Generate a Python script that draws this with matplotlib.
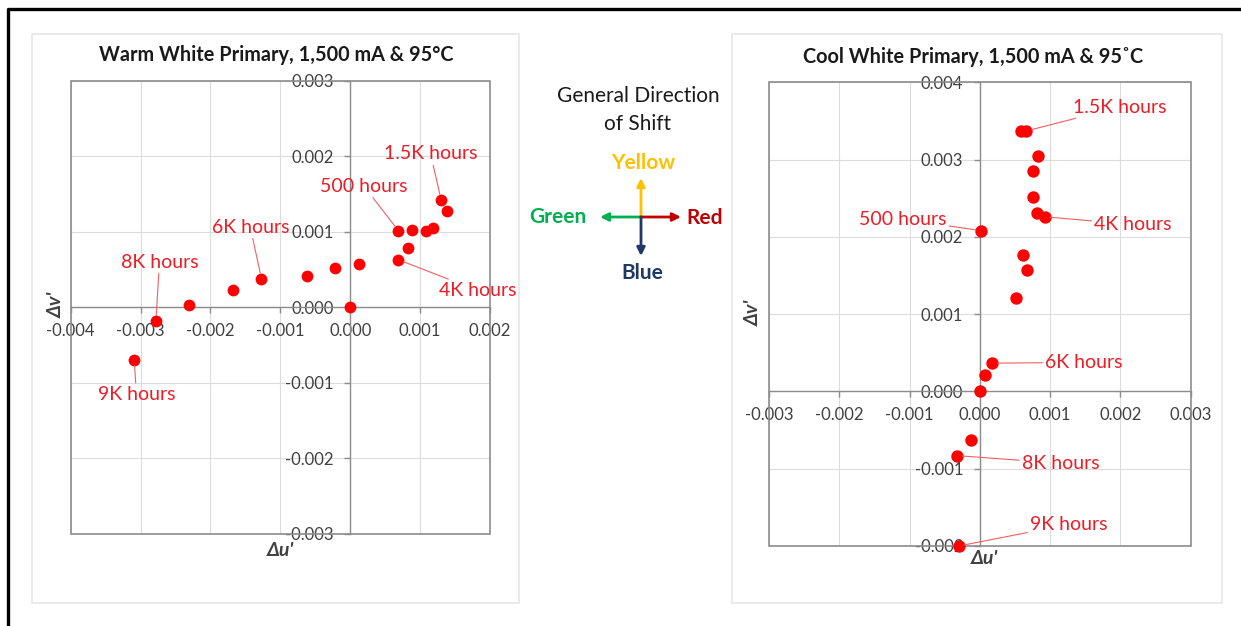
import numpy as np
import matplotlib.pyplot as plt
from matplotlib.patches import Rectangle
from matplotlib.ticker import FuncFormatter

plt.rcParams['font.family'] = ['Lato', 'DejaVu Sans']

# Warm white primary, 1,500 mA & 95 C  (delta u', delta v')
warm_du = [0.0, -0.00278, -0.00231, -0.00168, -0.00127, -0.000625, -0.00022,
           0.00013, 0.00069, 0.00083, 0.00069, 0.00089, 0.00109, 0.00118,
           0.00130, 0.00138, -0.00309]
warm_dv = [0.0, -0.00018, 0.00003, 0.00023, 0.00038, 0.00042, 0.000525,
           0.00058, 0.00063, 0.00078, 0.001015, 0.001025, 0.001005, 0.001045,
           0.001425, 0.00127, -0.00070]

# Cool white primary, 1,500 mA & 95 C
cool_du = [0.00059, 0.00066, 0.00083, 0.00076, 0.00075, 0.000815, 0.00092,
           0.00002, 0.00062, 0.00067, 0.00051, 0.00017, 0.00007, 0.0,
           -0.00013, -0.00033, -0.00030]
cool_dv = [0.00337, 0.00337, 0.00305, 0.00285, 0.00252, 0.002315, 0.00226,
           0.00208, 0.00176, 0.001565, 0.00121, 0.000366, 0.000216, 0.0,
           -0.000634, -0.00083, -0.0020]

# annotations: text, point index, text position (data units)
warm_notes = [("1.5K hours", 14, (0.00115, 0.00203)),
              ("500 hours", 10, (0.00020, 0.00160)),
              ("6K hours", 4, (-0.00143, 0.00106)),
              ("8K hours", 1, (-0.00273, 0.00060)),
              ("4K hours", 8, (0.00182, 0.000225)),
              ("9K hours", 16, (-0.00306, -0.00115))]
cool_notes = [("1.5K hours", 1, (0.00199, 0.00368)),
              ("4K hours", 6, (0.00218, 0.00216)),
              ("500 hours", 7, (-0.00110, 0.00223)),
              ("6K hours", 11, (0.00148, 0.000375)),
              ("8K hours", 15, (0.00115, -0.00093)),
              ("9K hours", 16, (0.00127, -0.00172))]

W, H = 1241, 626
fig = plt.figure(figsize=(W / 100, H / 100), dpi=100)

grey = '#8c8c8c'
tick_col = '#404040'
red = '#ff0000'


def px_axes(x0, y0, x1, y1):
    return fig.add_axes([x0 / W, 1 - y1 / H, (x1 - x0) / W, (y1 - y0) / H])


def fmt(v, pos):
    return f'{round(v, 3) + 0.0:.3f}'


def setup(ax, xlim, ylim):
    ax.set_xlim(*xlim)
    ax.set_ylim(*ylim)
    ax.set_facecolor('none')
    ax.set_xticks(np.arange(xlim[0], xlim[1] + 1e-6, 0.001))
    ax.set_yticks(np.arange(ylim[0], ylim[1] + 1e-6, 0.001))
    ax.xaxis.set_major_formatter(FuncFormatter(fmt))
    ax.yaxis.set_major_formatter(FuncFormatter(fmt))
    ax.spines['left'].set_position(('data', 0))
    ax.spines['bottom'].set_position(('data', 0))
    ax.spines['top'].set_visible(False)
    ax.spines['right'].set_visible(False)
    for s in ('left', 'bottom'):
        ax.spines[s].set_color(grey)
        ax.spines[s].set_linewidth(1.0)
    ax.tick_params(direction='out', length=4, width=1.0, color=grey,
                   labelsize=12, labelcolor=tick_col)
    ax.tick_params(axis='y', pad=8)
    ax.tick_params(axis='x', pad=7)
    ax.grid(color='#dcdcdc', lw=0.8)
    ax.set_axisbelow(True)
    ax.add_patch(Rectangle((0, 0), 1, 1, transform=ax.transAxes, fill=False,
                           edgecolor=grey, lw=1.2, clip_on=False, zorder=1))


def draw(ax, du, dv, notes, size):
    ax.scatter(du, dv, s=size, color=red, zorder=5, clip_on=False,
               linewidths=0)
    for label, i, pos in notes:
        ax.annotate(label, xy=(du[i], dv[i]), xytext=pos, ha='center',
                    va='center', fontsize=14, color='#ee1c25', zorder=6,
                    arrowprops=dict(arrowstyle='-', color='#f06060', lw=0.8,
                                    shrinkA=0, shrinkB=4))


# background overlay in pixel coordinates
ov = fig.add_axes([0, 0, 1, 1], zorder=-1)
ov.set_xlim(0, W)
ov.set_ylim(H, 0)
ov.axis('off')
ov.plot([8, 8, W], [H, 9, 9], color='black', lw=2.4, solid_capstyle='butt')
for x0, x1 in ((32, 519), (732, 1222)):
    ov.add_patch(Rectangle((x0, 34), x1 - x0, 603 - 34, fill=False,
                           edgecolor='#e6e6e6', lw=1.2))

ax1 = px_axes(70.7, 80.7, 490, 534)
setup(ax1, (-0.004, 0.002), (-0.003, 0.003))
draw(ax1, warm_du, warm_dv, warm_notes, 72)

ax2 = px_axes(769, 82.3, 1190.7, 546)
setup(ax2, (-0.003, 0.003), (-0.002, 0.004))
draw(ax2, cool_du, cool_dv, cool_notes, 80)

# titles and axis names
title_kw = dict(ha='center', va='center', fontsize=14.3, fontweight='bold',
                color='#1a1a1a')
ov.text(276, 55, 'Warm White Primary, 1,500 mA & 95°C', **title_kw)
ov.text(973, 57, 'Cool White Primary, 1,500 mA & 95˚C', **title_kw)
lab_kw = dict(ha='center', va='center', fontsize=14, fontweight='bold',
              fontstyle='italic', color='#404040')
ov.text(281, 551, "Δu'", **lab_kw)
ov.text(985, 558, "Δu'", **lab_kw)
ov.text(56, 305, "Δv'", rotation=90, **lab_kw)
ov.text(753, 313, "Δv'", rotation=90, **lab_kw)

# general direction of shift
ov.text(638, 96, 'General Direction', ha='center', va='center', fontsize=15,
        color='#1a1a1a')
ov.text(638, 124, 'of Shift', ha='center', va='center', fontsize=15,
        color='#1a1a1a')
cx, cy = 641, 217
arrows = [((cx, 178), '#ffc000'), ((600, cy), '#00b050'),
          ((681, cy), '#c00000'), ((cx, 256), '#203864')]
for end, col in arrows:
    ov.annotate('', xy=end, xytext=(cx, cy),
                arrowprops=dict(arrowstyle='-|>', color=col, lw=2,
                                mutation_scale=12, shrinkA=0, shrinkB=0))
dir_kw = dict(ha='center', va='center', fontsize=15, fontweight='bold')
ov.text(643, 163, 'Yellow', color='#ffc000', **dir_kw)
ov.text(558, 217, 'Green', color='#00b050', **dir_kw)
ov.text(705, 218, 'Red', color='#c00000', **dir_kw)
ov.text(642, 273, 'Blue', color='#203864', **dir_kw)

fig.savefig('out.png', dpi=100)
